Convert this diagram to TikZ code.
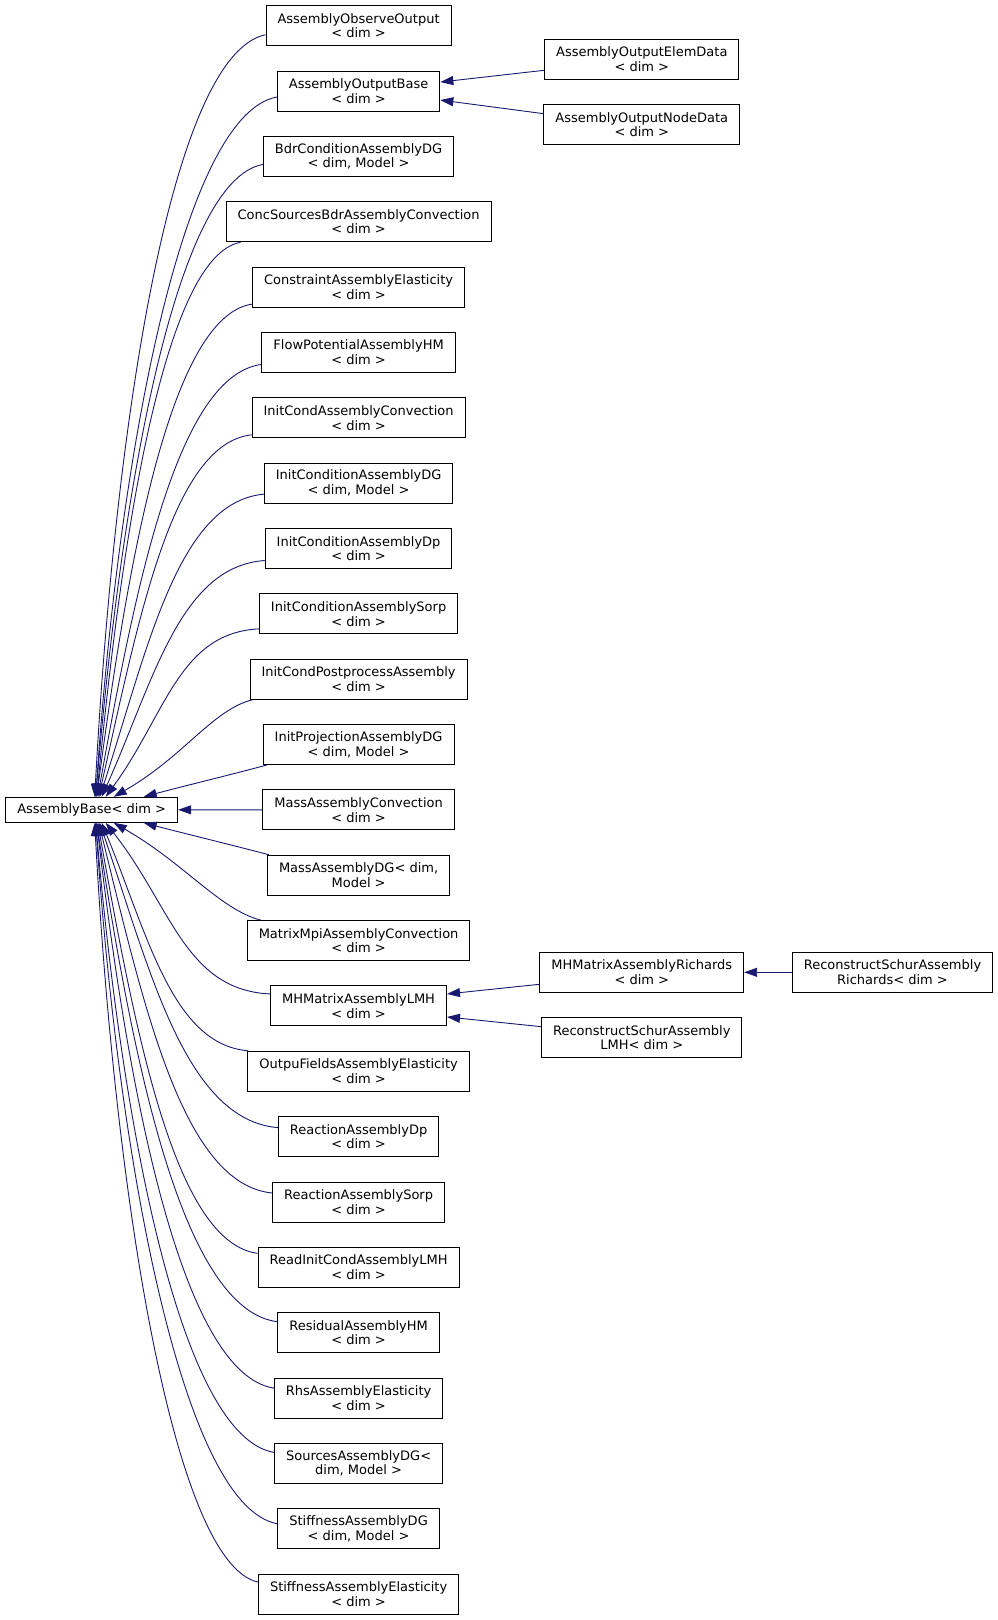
\documentclass[tikz,border=0pt]{standalone}
\usepackage{fontspec}
\setmainfont{DejaVu Sans}
\usepackage{tikz}
\usetikzlibrary{arrows.meta}
\definecolor{edgeblue}{HTML}{191970}
\tikzstyle{box} = [rectangle, draw=black, fill=white, line width=1pt, align=center, inner xsep=11.5pt, inner ysep=0pt, minimum height=40pt]
\tikzstyle{arrow} = [draw=edgeblue, line width=0.9pt, <-, >={Triangle[length=13pt, width=9pt]}]

\begin{document}
\begin{tikzpicture}[x=1pt, y=-1pt, node distance=65.35pt, font=\fontsize{13pt}{14.7pt}\selectfont]
  \useasboundingbox (0,0) rectangle (997,1620);

  \node (0) [box, minimum height=25pt] at (91.7,809.8) {AssemblyBase< dim >};

  \node (1) [box] at (358.6,25.7) {AssemblyObserveOutput\\< dim >};
  \node (2) [box, below of=1] {AssemblyOutputBase\\< dim >};
  \node (3) [box, below of=2] {BdrConditionAssemblyDG\\< dim, Model >};
  \node (4) [box, below of=3] {ConcSourcesBdrAssemblyConvection\\< dim >};
  \node (5) [box, below of=4] {ConstraintAssemblyElasticity\\< dim >};
  \node (6) [box, below of=5] {FlowPotentialAssemblyHM\\< dim >};
  \node (7) [box, below of=6] {InitCondAssemblyConvection\\< dim >};
  \node (8) [box, below of=7] {InitConditionAssemblyDG\\< dim, Model >};
  \node (9) [box, below of=8] {InitConditionAssemblyDp\\< dim >};
  \node (10) [box, below of=9] {InitConditionAssemblySorp\\< dim >};
  \node (11) [box, below of=10] {InitCondPostprocessAssembly\\< dim >};
  \node (12) [box, below of=11] {InitProjectionAssemblyDG\\< dim, Model >};
  \node (13) [box, below of=12] {MassAssemblyConvection\\< dim >};
  \node (14) [box, below of=13] {MassAssemblyDG< dim,\\Model >};
  \node (15) [box, below of=14] {MatrixMpiAssemblyConvection\\< dim >};
  \node (16) [box, below of=15] {MHMatrixAssemblyLMH\\< dim >};
  \node (17) [box, below of=16] {OutpuFieldsAssemblyElasticity\\< dim >};
  \node (18) [box, below of=17] {ReactionAssemblyDp\\< dim >};
  \node (19) [box, below of=18] {ReactionAssemblySorp\\< dim >};
  \node (20) [box, below of=19] {ReadInitCondAssemblyLMH\\< dim >};
  \node (21) [box, below of=20] {ResidualAssemblyHM\\< dim >};
  \node (22) [box, below of=21] {RhsAssemblyElasticity\\< dim >};
  \node (23) [box, below of=22] {SourcesAssemblyDG<\\dim, Model >};
  \node (24) [box, below of=23] {StiffnessAssemblyDG\\< dim, Model >};
  \node (25) [box, below of=24] {StiffnessAssemblyElasticity\\< dim >};

  \node (26) [box] at (641.8,59.3) {AssemblyOutputElemData\\< dim >};
  \node (27) [box, below of=26] {AssemblyOutputNodeData\\< dim >};
  \node (28) [box] at (641.8,972.3) {MHMatrixAssemblyRichards\\< dim >};
  \node (29) [box, below of=28] {ReconstructSchurAssembly\\LMH< dim >};
  \node (30) [box] at (892.5,972.3) {ReconstructSchurAssembly\\Richards< dim >};

  % upper children
  \draw [arrow] ([xshift=3pt]0.north) .. controls +(20,-370) and +(-95,20) .. ([yshift=-9pt]1.west);
  \draw [arrow] ([xshift=4pt]0.north) .. controls +(23,-343) and +(-94,17) .. ([yshift=-6pt]2.west);
  \draw [arrow] ([xshift=4pt]0.north) .. controls +(26,-310) and +(-87,16) .. ([yshift=-8pt]3.west);
  \draw [arrow] ([xshift=5pt]0.north) .. controls +(26,-272) and +(-75,14) .. ([xshift=15pt]4.south west);
  \draw [arrow] ([xshift=5pt]0.north) .. controls +(32,-242) and +(-81,12) .. ([yshift=-17pt]5.west);
  \draw [arrow] ([xshift=6pt]0.north) .. controls +(38,-212) and +(-84,11) .. ([yshift=-12pt]6.west);
  \draw [arrow] ([xshift=7pt]0.north) .. controls +(40,-177) and +(-80,9) .. ([yshift=-17pt]7.west);
  \draw [arrow] ([xshift=8pt]0.north) .. controls +(48,-148) and +(-86,8) .. ([yshift=-11pt]8.west);
  \draw [arrow] ([xshift=10pt]0.north) .. controls +(52,-116) and +(-85,6) .. ([yshift=-12pt]9.west);
  \draw [arrow] ([xshift=14pt]0.north) .. controls +(60,-82) and +(-80,4) .. ([yshift=-15pt]10.west);
  \draw [arrow] ([xshift=22pt]0.north) .. controls +(70,-40) and +(-40,10) .. ([xshift=3pt]11.south west);
  \draw [arrow] ([xshift=52pt]0.north) .. controls +(41,-11) and +(-41,11) .. ([xshift=4pt]12.south west);
  \draw [arrow] (0.east) -- (13.west);
  % lower children
  \draw [arrow] ([xshift=52pt]0.south) .. controls +(42,11) and +(-42,-11) .. ([xshift=2pt]14.north west);
  \draw [arrow] ([xshift=22pt]0.south) .. controls +(70,40) and +(-40,-10) .. ([xshift=14pt]15.north west);
  \draw [arrow] ([xshift=14pt]0.south) .. controls +(66,84) and +(-85,-4) .. ([yshift=12pt]16.west);
  \draw [arrow] ([xshift=10pt]0.south) .. controls +(46,112) and +(-76,-6) .. ([xshift=1pt]17.north west);
  \draw [arrow] ([xshift=8pt]0.south) .. controls +(51,150) and +(-92,-8) .. ([yshift=9pt]18.west);
  \draw [arrow] ([xshift=7pt]0.south) .. controls +(45,182) and +(-90,-9) .. ([yshift=9pt]19.west);
  \draw [arrow] ([xshift=6pt]0.south) .. controls +(38,211) and +(-83,-11) .. ([yshift=14pt]20.west);
  \draw [arrow] ([xshift=5pt]0.south) .. controls +(37,245) and +(-94,-12) .. ([yshift=11pt]21.west);
  \draw [arrow] ([xshift=5pt]0.south) .. controls +(32,277) and +(-91,-14) .. ([yshift=10pt]22.west);
  \draw [arrow] ([xshift=4pt]0.south) .. controls +(27,309) and +(-93,-16) .. ([yshift=11pt]23.west);
  \draw [arrow] ([xshift=4pt]0.south) .. controls +(23,343) and +(-94,-17) .. ([yshift=5pt]24.west);
  \draw [arrow] ([xshift=3pt]0.south) .. controls +(20,372) and +(-85,-19) .. ([yshift=12pt]25.west);
  % second level
  \draw [arrow] ([yshift=9pt]2.east) -- ([yshift=-11pt]26.west);
  \draw [arrow] ([yshift=-9pt]2.east) -- ([yshift=11pt]27.west);
  \draw [arrow] ([yshift=12pt]16.east) -- ([yshift=-12pt]28.west);
  \draw [arrow] ([yshift=-11pt]16.east) -- ([yshift=11pt]29.west);
  \draw [arrow] (28.east) -- (30.west);
\end{tikzpicture}
\end{document}
